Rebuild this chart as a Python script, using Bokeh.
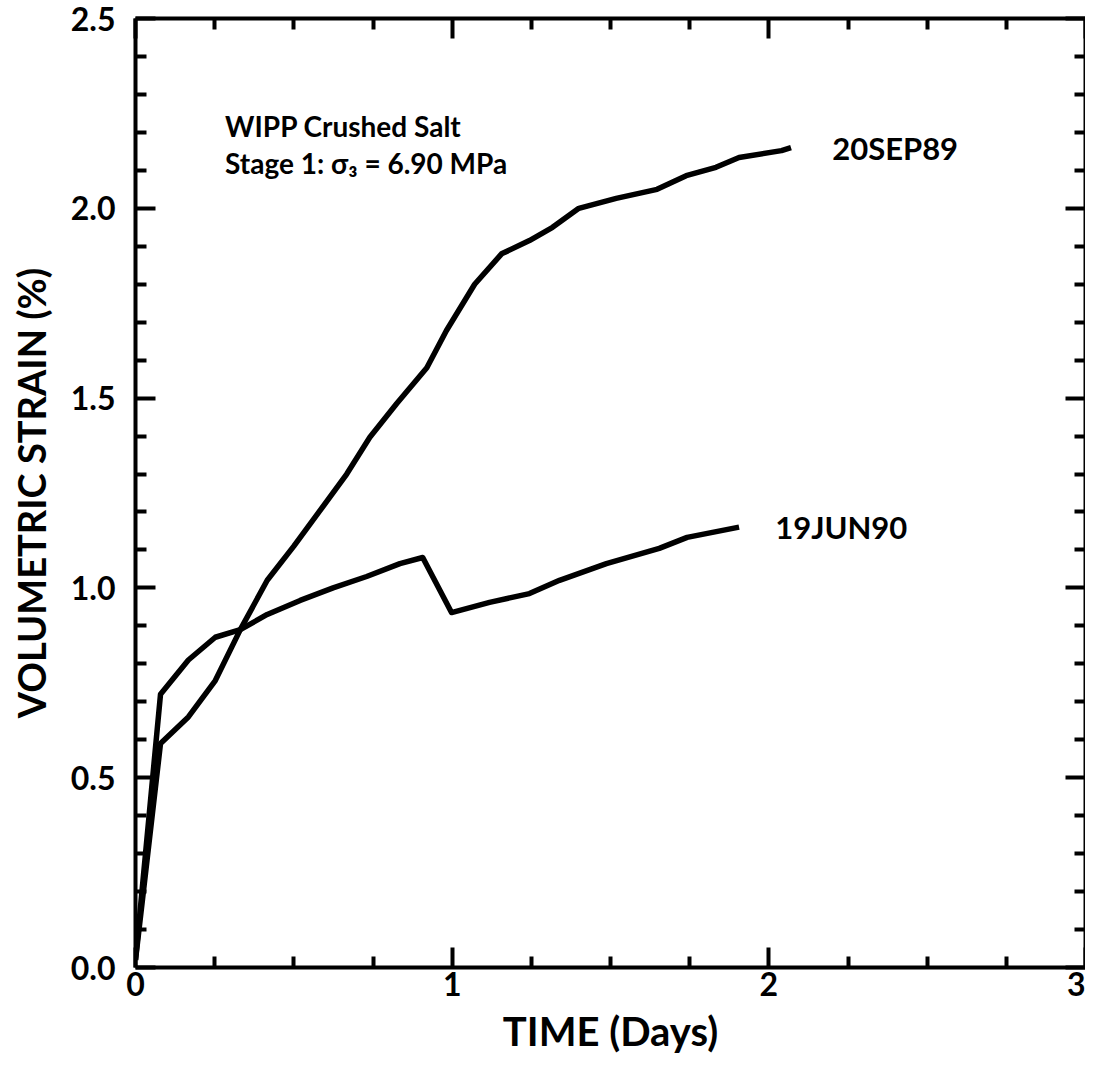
from bokeh.plotting import figure
from bokeh.models import LinearAxis, FixedTicker, Range1d, NumeralTickFormatter, Label
from bokeh.embed import file_html
from bokeh.resources import INLINE

# Data
sep89_t = [0.0, 0.079, 0.167, 0.252, 0.331, 0.416, 0.50, 0.583, 0.667, 0.74, 0.825, 0.92, 0.982,
           1.071, 1.156, 1.244, 1.317, 1.40, 1.518, 1.647, 1.739, 1.833, 1.906, 2.04, 2.07]
sep89_v = [0.02, 0.59, 0.66, 0.756, 0.89, 1.02, 1.11, 1.204, 1.30, 1.397, 1.486, 1.58, 1.678,
           1.80, 1.88, 1.915, 1.95, 2.0, 2.026, 2.05, 2.086, 2.108, 2.134, 2.152, 2.16]
jun90_t = [0.0, 0.079, 0.167, 0.252, 0.331, 0.416, 0.52, 0.624, 0.73, 0.835, 0.907, 0.998,
           1.118, 1.244, 1.339, 1.487, 1.654, 1.742, 1.906]
jun90_v = [0.02, 0.72, 0.81, 0.87, 0.89, 0.93, 0.967, 1.0, 1.03, 1.064, 1.08, 0.935,
           0.962, 0.985, 1.02, 1.064, 1.104, 1.133, 1.16]

x_major = [0, 1, 2, 3]
x_minor = [0.25, 0.5, 0.75, 1.25, 1.5, 1.75, 2.25, 2.5, 2.75]
y_major = [0.0, 0.5, 1.0, 1.5, 2.0, 2.5]
y_minor = [round(0.1 * i, 1) for i in range(26) if i % 5 != 0]

FONT = "Lato"

p = figure(width=1085, height=1058, output_backend="svg", toolbar_location=None,
           x_range=Range1d(0, 3), y_range=Range1d(0, 2.5),
           min_border_left=135, min_border_right=0, min_border_top=18, min_border_bottom=91,
           x_axis_location=None, y_axis_location=None)
p.outline_line_color = None
p.grid.visible = False
p.background_fill_color = "white"
p.border_fill_color = "white"

def style(ax, labels=True):
    ax.axis_line_width = 4
    ax.axis_line_color = "black"
    ax.major_tick_in = 20
    ax.major_tick_out = 0
    ax.minor_tick_in = 11
    ax.minor_tick_out = 0
    ax.major_tick_line_width = 4
    ax.minor_tick_line_width = 4
    ax.major_label_text_font = FONT
    ax.major_label_text_font_style = "bold"
    ax.major_label_text_font_size = "32px"
    ax.major_label_text_color = "black"
    ax.axis_label_text_font = FONT
    ax.axis_label_text_font_style = "bold"
    ax.axis_label_text_font_size = "38px"
    ax.axis_label_text_color = "black"
    if not labels:
        ax.major_label_text_font_size = "0px"
        ax.major_label_text_alpha = 0
        ax.major_label_standoff = 0

xt = FixedTicker(ticks=x_major, minor_ticks=x_minor)
yt = FixedTicker(ticks=y_major, minor_ticks=y_minor)

xb = LinearAxis(ticker=xt, axis_label="TIME (Days)")
style(xb)
xb.axis_label_text_font_size = "40px"
xb.major_label_standoff = 4
xb.axis_label_standoff = 8
p.add_layout(xb, "below")

xa = LinearAxis(ticker=xt)
style(xa, labels=False)
p.add_layout(xa, "above")

yl = LinearAxis(ticker=yt, axis_label="VOLUMETRIC STRAIN (%)",
                formatter=NumeralTickFormatter(format="0.0"))
style(yl)
yl.major_label_standoff = 20
yl.axis_label_standoff = 14
p.add_layout(yl, "left")

yr = LinearAxis(ticker=yt)
style(yr, labels=False)
p.add_layout(yr, "right")

p.line(sep89_t, sep89_v, line_width=5.5, line_color="black", line_join="round")
p.line(jun90_t, jun90_v, line_width=5.5, line_color="black", line_join="round")

def lab(x, y, t, size="31px", align="left"):
    p.add_layout(Label(x=x, y=y, text=t, text_font=FONT, text_font_style="bold",
                       text_font_size=size, text_color="black", text_baseline="middle",
                       text_align=align))

lab(0.283, 2.218, "WIPP Crushed Salt", "28px")
lab(0.283, 2.12, "Stage 1: σ₃ = 6.90 MPa", "28px")
lab(2.2, 2.16, "20SEP89")
lab(2.02, 1.16, "19JUN90")

open("out.html", "w").write(file_html(p, INLINE))
